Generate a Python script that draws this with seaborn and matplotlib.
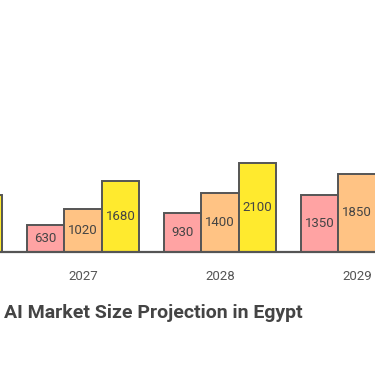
import matplotlib
matplotlib.use('Agg')
import matplotlib.pyplot as plt
import seaborn as sns
import pandas as pd

years = ['2026', '2027', '2028', '2029']
series = ['Low', 'Mid', 'High']
low_vals = [400, 630, 930, 1350]
mid_vals = [700, 1020, 1400, 1850]
high_vals = [1350, 1680, 2100, 2600]
colors = ['#FFA3A3', '#FFC384', '#FFEA2E']

rows = []
for i, y in enumerate(years):
    for s, vals in zip(series, [low_vals, mid_vals, high_vals]):
        rows.append({'year': y, 'series': s, 'value': vals[i]})
df = pd.DataFrame(rows)

sns.set_style('white')
plt.rcParams['font.family'] = ['Roboto', 'DejaVu Sans']

fig = plt.figure(figsize=(3.75, 3.66), dpi=100)
ax = fig.add_axes([0, (366 - 252) / 366, 1, 252 / 366])

sns.barplot(data=df, x='year', y='value', hue='series', palette=colors,
            width=0.82, edgecolor='#555555', linewidth=1.4, legend=False,
            saturation=1, ax=ax)

xmin, xmax = 0.394, 3.131
for cont in ax.containers:
    for bar in cont:
        h = bar.get_height()
        cx = bar.get_x() + bar.get_width() / 2
        # only label bars whose centre is inside the visible window
        if xmin + 0.1 < cx < xmax - 0.1:
            ax.text(cx, h / 2, f'{int(h)}', ha='center', va='center',
                    fontsize=9.5, color='#444444')

ax.set_xlim(xmin, xmax)
ax.set_ylim(0, 5960)
ax.axhline(0, color='#555555', linewidth=1.6, clip_on=False)
for s in ax.spines.values():
    s.set_visible(False)
ax.set_yticks([])
ax.set_xlabel('')
ax.set_ylabel('')
ax.tick_params(axis='x', length=0, pad=13, labelsize=9.5, labelcolor='#555555')

fig.text(4 / 375, 1 - 313 / 366, 'AI Market Size Projection in Egypt',
         ha='left', va='center', fontsize=14, fontweight='bold', color='#444444')

fig.savefig('out.png', dpi=100)
